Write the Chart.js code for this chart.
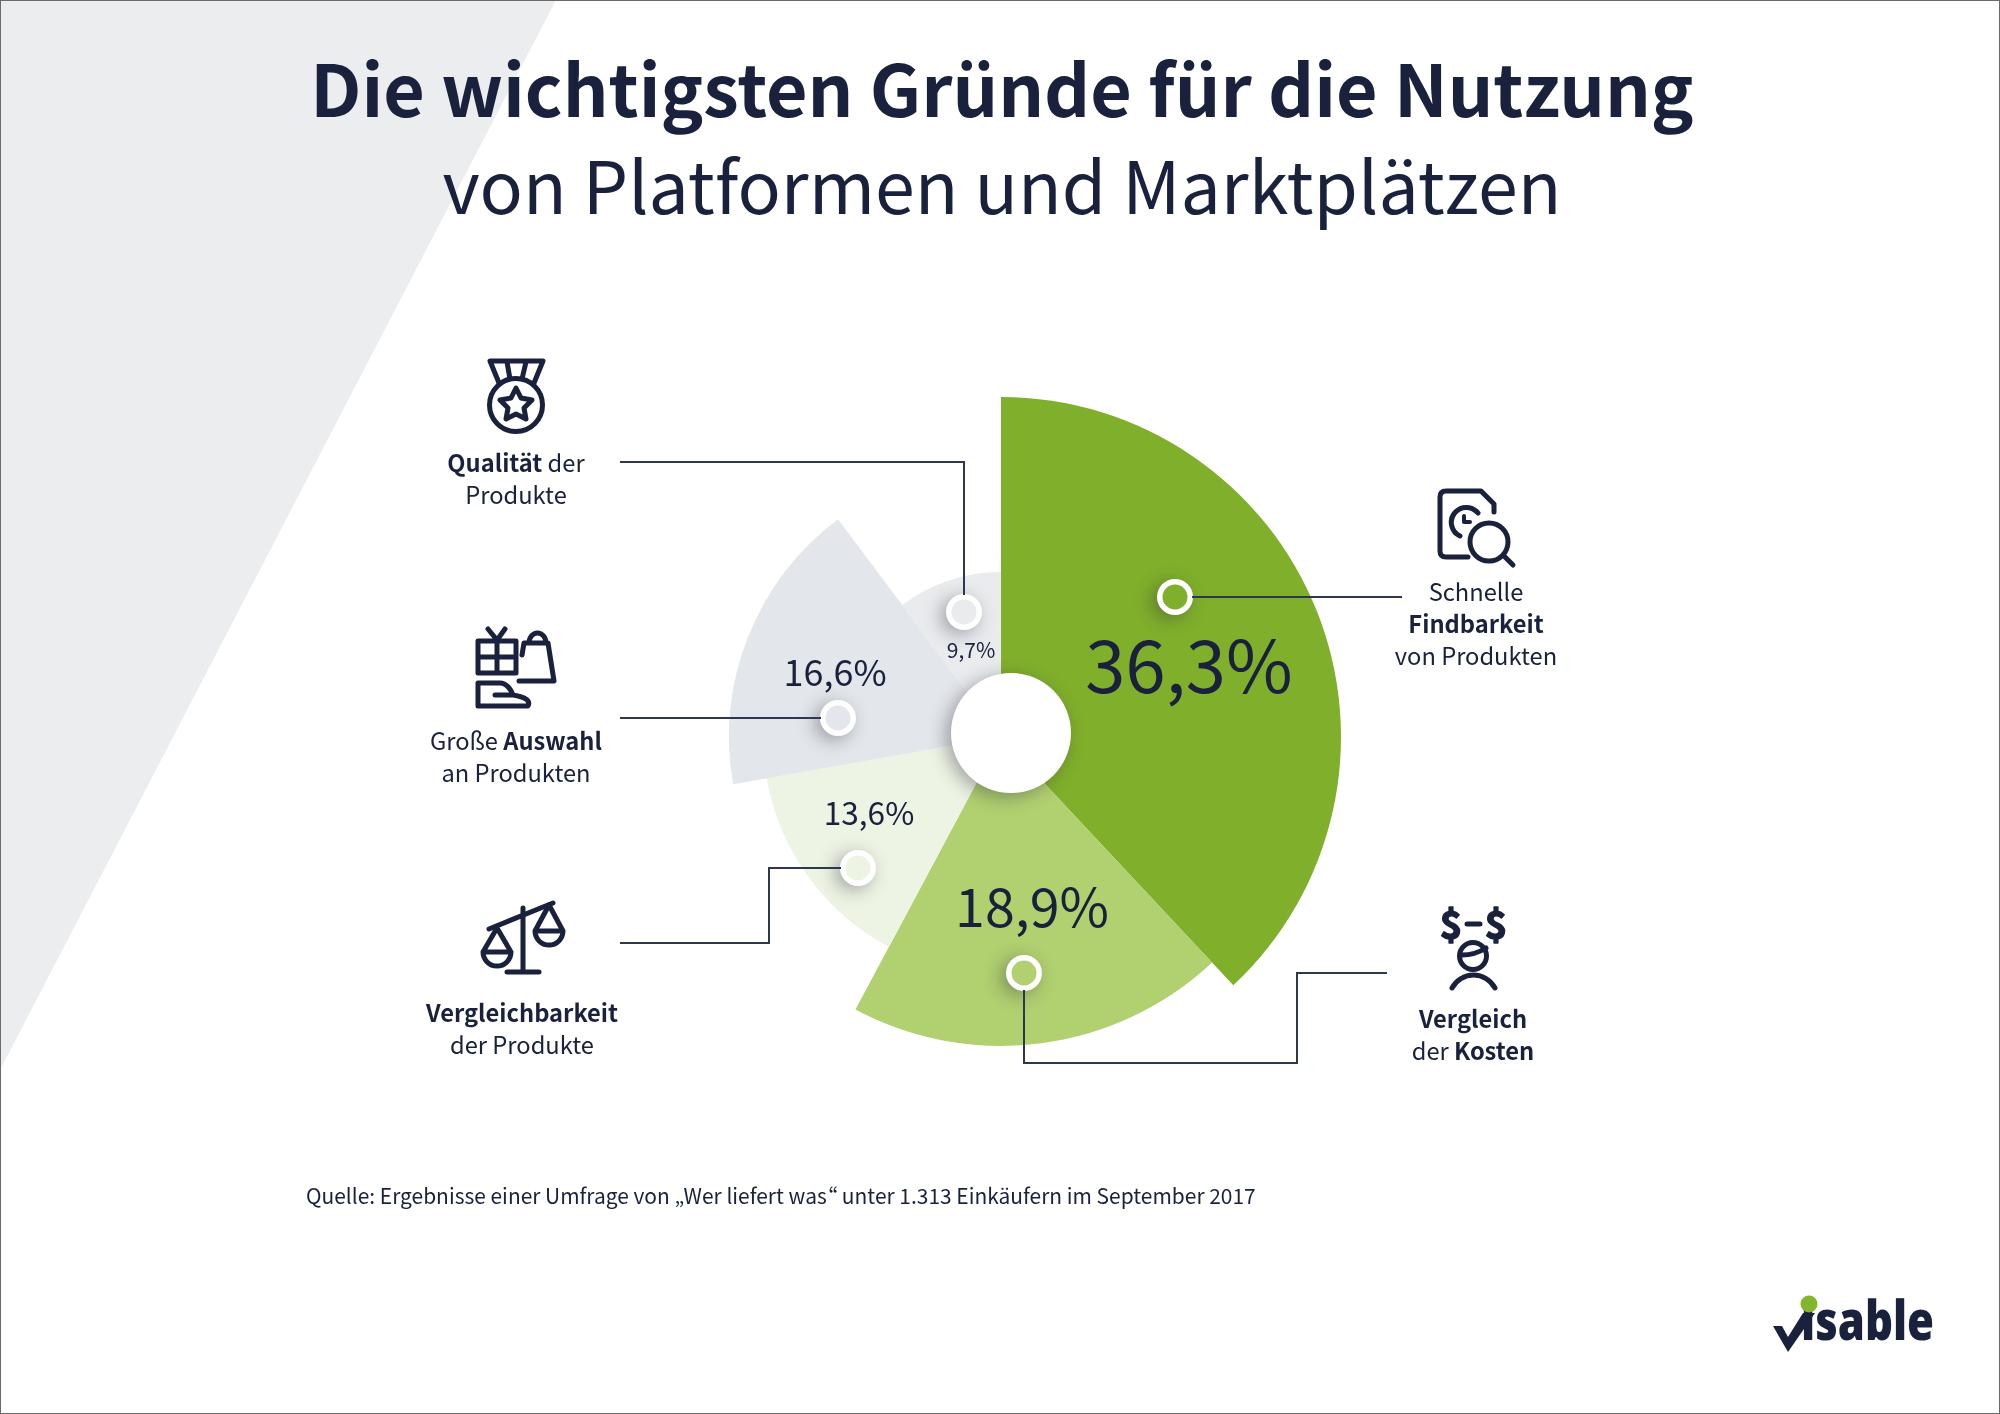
<!DOCTYPE html>
<html lang="de">
<head>
<meta charset="utf-8">
<title>Die wichtigsten Gründe für die Nutzung</title>
<script src="https://cdn.jsdelivr.net/npm/chart.js@4"></script>
<style>
  html, body { margin: 0; padding: 0; background: #fff; }
  #page { position: relative; width: 2000px; height: 1414px; overflow: hidden; background: #fff;
    font-family: "Noto Sans CJK SC", "Open Sans", sans-serif; color: #19213d; }
  #page > * { position: absolute; }
  #frame { left: 0; top: 0; width: 1998px; height: 1412px; border: 1px solid #6a6a6a; z-index: 5; }
  #wedge, #overlay { left: 0; top: 0; }
  #myChart { left: 0; top: 0; }
  h1, h2 { margin: 0; width: 2000px; text-align: center; white-space: nowrap; font-size: 71.7px; line-height: 96px; }
  h1 { left: 2px; top: 38px; font-weight: 700; }
  h2 { left: 2px; top: 135px; font-weight: 400; }
  .label { width: 300px; text-align: center; font-size: 23.7px; line-height: 32px; white-space: nowrap; }
  .label b { font-weight: 700; }
  #source { left: 306px; top: 1179px; font-size: 20.94px; line-height: 32px; white-space: nowrap; font-feature-settings: "palt"; }
</style>
</head>
<body>
<div id="page">
  <svg id="wedge" width="2000" height="1414"><polygon points="0,0 556,0 0,1070" fill="#ebedef"/></svg>
  <canvas id="myChart" width="2000" height="1414"></canvas>
  <svg id="overlay" width="2000" height="1414" fill="none" stroke="#19213d" stroke-width="5" stroke-linecap="round" stroke-linejoin="round">
    <!-- leader lines -->
    <g stroke="#2d3652" stroke-width="2" stroke-linecap="butt" stroke-linejoin="miter">
      <polyline points="620,462 964,462 964,595"/>
      <polyline points="620,718 821,718"/>
      <polyline points="620,943 769,943 769,868 841,868"/>
      <polyline points="1024,990 1024,1063 1297,1063 1297,973 1387,973"/>
      <polyline points="1192,597 1402,597"/>
    </g>
    <!-- medal -->
    <path d="M490,361 H543 L534,383 M490,361 L499,383 M507,362 L510,379 M526,362 L522,379"/>
    <circle cx="516" cy="405" r="26.500"/>
    <path d="M516,388 L521,398 L532,400 L524,408 L526,419 L516,414 L506,419 L508,408 L500,400 L511,398 Z"/>
    <!-- gift, bag and hand -->
    <path d="M478,641 H516 V673 H478 Z M497,641 V673 M478,657 H516 M488,629 L497,640 L505,629"/>
    <path d="M522,655 L524,643 H548 L554,681 H519 M529,643 A8.500,10 0 0 1 546,643"/>
    <path d="M500,683 H478 V706 H528 Q532,698 513,695 H495 M513,695 Q508,683 500,683"/>
    <!-- scales -->
    <path d="M489,929 L553,903 M523,908 V972 M507,972 H539"/>
    <path d="M497,928 L483,952 A14,14 0 0 0 511,952 L497,928 M483,952 H511"/>
    <path d="M549,905 L535,931 A14,14 0 0 0 563,931 L549,905 M535,931 H563"/>
    <!-- document search -->
    <path d="M1468,557 H1446 Q1440,557 1440,551 V497 Q1440,491 1446,491 H1481 L1494,504 V512"/>
    <path d="M1478,513 A15,15 0 1 0 1460,536"/>
    <path d="M1464,516 V522 H1470" stroke-width="4"/>
    <circle cx="1489" cy="542" r="19"/>
    <path d="M1503,555 L1513,565"/>
    <!-- person and dollar signs -->
    <path d="M1467,924 H1480"/>
    <circle cx="1473" cy="956" r="13.500"/>
    <path d="M1462,955 Q1475,955 1486,948"/>
    <path d="M1452,988 A24.300,24.300 0 0 1 1495,988"/>
    <g fill="#19213d" stroke="#19213d" stroke-width="1.500" font-family="Noto Sans CJK SC" font-weight="700" font-size="38" text-anchor="middle">
      <text x="1451" y="939">$</text>
      <text x="1496" y="939">$</text>
    </g>
    <!-- logo -->
    <g stroke="none">
      <text x="1801" y="1340" fill="#19213d" font-family="Open Sans" font-weight="800" font-size="54" textLength="133" lengthAdjust="spacingAndGlyphs">isable</text>
      <polygon fill="#19213d" points="1773,1326 1782,1326 1788,1337 1803,1313 1815,1313 1788,1352"/>
      <circle cx="1809" cy="1304" r="8.500" fill="#85b52e"/>
    </g>
  </svg>
  <h1>Die wichtigsten Gründe für die Nutzung</h1>
  <h2>von Platformen und Marktplätzen</h2>
  <div id="labels"></div>
  <div id="source">Quelle: Ergebnisse einer Umfrage von „Wer liefert was“ unter 1.313 Einkäufern im September 2017</div>
  <div id="frame"></div>
</div>

<script>
const categories = ["Schnelle Findbarkeit von Produkten", "Vergleich der Kosten", "Vergleichbarkeit der Produkte", "Große Auswahl an Produkten", "Qualität der Produkte"];
const shares = [36.3, 18.9, 13.6, 16.6, 9.7];
// slice reach and slice width in degrees
const reach = [340, 309, 238, 272, 165];
const spans = [136.9, 71.2, 51.9, 63.2, 36.8];
const sliceColors = ["#80af2b", "#b1d070", "#eef4e4", "#e3e6ea", "#e9ebed"];

const valueLabels = [
  { x: 1189, y: 665, size: 72.4 },
  { x: 1032, y: 907, size: 53.7 },
  { x: 869, y: 813, size: 31.6 },
  { x: 835, y: 672, size: 36 },
  { x: 971, y: 650, size: 21 }
];
const markers = [
  { x: 1175, y: 597 },
  { x: 1024, y: 973 },
  { x: 858, y: 868 },
  { x: 838, y: 718 },
  { x: 964, y: 612 }
];
const sideLabels = [
  { x: 516, y: 446, html: "<b>Qualität</b> der<br>Produkte" },
  { x: 516, y: 724, html: "Große <b>Auswahl</b><br>an Produkten" },
  { x: 522, y: 996, html: "<b>Vergleichbarkeit</b><br>der Produkte" },
  { x: 1476, y: 575, html: "Schnelle<br><b>Findbarkeit</b><br>von Produkten" },
  { x: 1473, y: 1002, html: "<b>Vergleich</b><br>der <b>Kosten</b>" }
];

const labelBox = document.getElementById("labels");
sideLabels.forEach((d) => {
  const el = document.createElement("div");
  el.className = "label";
  el.style.position = "absolute";
  el.style.left = d.x - 150 + "px";
  el.style.top = d.y + "px";
  el.innerHTML = d.html;
  labelBox.appendChild(el);
});

const softShadow = (ctx) => {
  ctx.shadowColor = "rgba(40, 45, 60, 0.4)";
  ctx.shadowBlur = 18;
  ctx.shadowOffsetX = -5;
  ctx.shadowOffsetY = 4;
};

const decorations = {
  id: "decorations",
  afterDatasetsDraw(chart) {
    const { ctx } = chart;

    // hole in the middle
    ctx.save();
    softShadow(ctx);
    ctx.fillStyle = "#fff";
    ctx.beginPath();
    ctx.arc(chart.scales.r.xCenter + 10, chart.scales.r.yCenter - 4, 60, 0, Math.PI * 2);
    ctx.fill();
    ctx.restore();

    markers.forEach((m, i) => {
      ctx.save();
      softShadow(ctx);
      ctx.fillStyle = "#fff";
      ctx.beginPath();
      ctx.arc(m.x, m.y, 18, 0, Math.PI * 2);
      ctx.fill();
      ctx.restore();
      ctx.fillStyle = sliceColors[i];
      ctx.beginPath();
      ctx.arc(m.x, m.y, 12.5, 0, Math.PI * 2);
      ctx.fill();
    });

    ctx.fillStyle = "#19213d";
    ctx.textAlign = "center";
    ctx.textBaseline = "middle";
    shares.forEach((d, i) => {
      const l = valueLabels[i];
      ctx.font = `400 ${l.size}px "Noto Sans CJK SC", "Open Sans", sans-serif`;
      ctx.fillText(d.toFixed(1).replace(".", ",") + "%", l.x, l.y);
    });
  }
};

const myChart = new Chart(document.getElementById("myChart").getContext("2d"), {
  type: "polarArea",
  data: {
    labels: categories,
    datasets: [
      {
        data: reach,
        angle: spans,
        backgroundColor: sliceColors,
        borderWidth: 0
      }
    ]
  },
  options: {
    responsive: false,
    animation: false,
    layout: { padding: { left: 661, right: 659, top: 397, bottom: 337 } },
    plugins: {
      legend: { display: false },
      tooltip: { enabled: false }
    },
    scales: {
      r: { display: false, min: 0, max: 340, startAngle: 0 }
    }
  },
  plugins: [decorations]
});
</script>
</body>
</html>
